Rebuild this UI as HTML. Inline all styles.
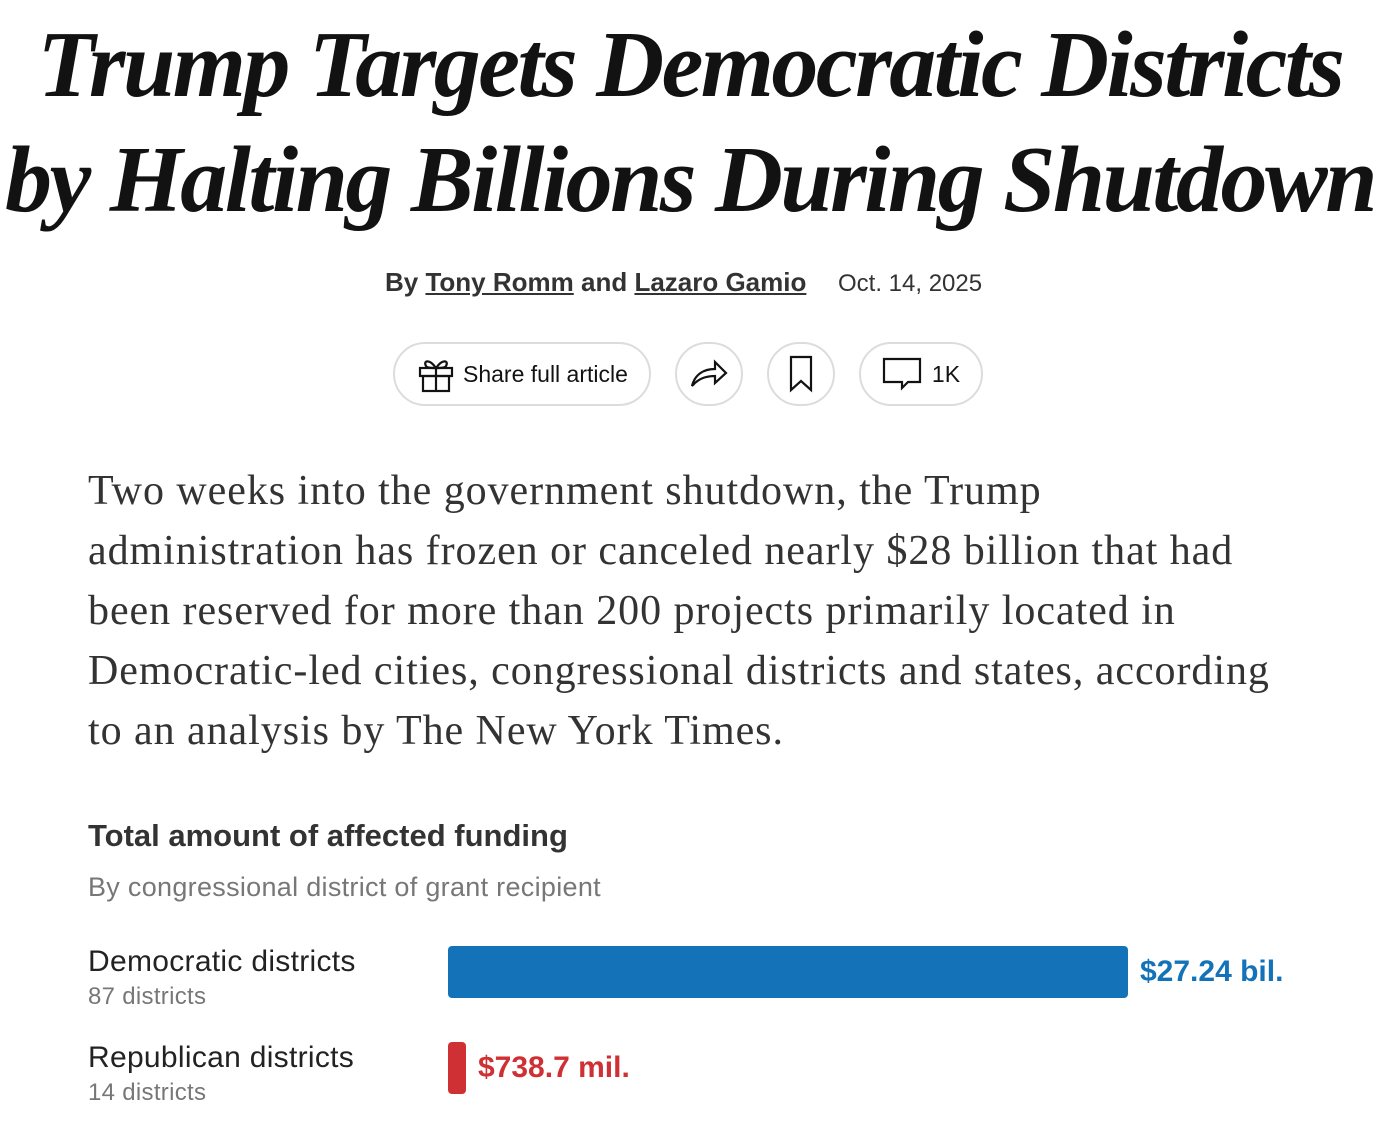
<!DOCTYPE html>
<html><head><meta charset="utf-8"><style>
body{margin:0;width:1380px;height:1134px;background:#fff;position:relative;overflow:hidden;font-family:"Liberation Sans",sans-serif;color:#121212}
.a{position:absolute;white-space:nowrap}
.t{font-family:"Liberation Serif",serif;font-weight:bold;font-style:italic;font-size:94px;letter-spacing:-2.5px;left:0;width:1380px;text-align:center;line-height:1}
.b{font-family:"Liberation Serif",serif;font-size:42px;color:#333;left:88px;letter-spacing:0.95px}
.btn{position:absolute;border:2px solid #dcdcdc;border-radius:34px;height:64px;top:342px;box-sizing:border-box;display:flex;align-items:center;justify-content:center;font-size:23px;color:#121212}
</style></head><body>
<div class="a t" style="top:18px">Trump Targets Democratic Districts</div>
<div class="a t" style="top:133px">by Halting Billions During Shutdown</div>
<div class="a" style="left:385px;top:267px;font-size:26px;font-weight:bold;color:#333">By <u>Tony Romm</u> and <u>Lazaro Gamio</u></div>
<div class="a" style="left:838px;top:270px;font-size:24px;color:#333">Oct. 14, 2025</div>
<div class="btn" style="left:393px;width:258px;justify-content:flex-start;padding-left:22px">
<svg width="38" height="38" viewBox="0 0 38 38" fill="none" stroke="#121212" stroke-width="2.2"><rect x="3" y="13" width="32" height="8"/><rect x="6" y="21" width="26" height="15"/><line x1="19" y1="13" x2="19" y2="36"/><path d="M19 13 C12 3 6 6 9 11 C10 13 15 13 19 13 C23 13 28 13 29 11 C32 6 26 3 19 13"/></svg>
<span style="margin-left:8px">Share full article</span></div>
<div class="btn" style="left:675px;width:68px"><svg width="40" height="30" viewBox="0 0 40 30" fill="none" stroke="#121212" stroke-width="2.2"><path d="M3 27 C6 15 15 10 26 10 L26 3 L37 14 L26 24 L26 17 C16 17 9 20 3 27Z"/></svg></div>
<div class="btn" style="left:767px;width:68px"><svg width="26" height="38" viewBox="0 0 26 38" fill="none" stroke="#121212" stroke-width="2.2"><path d="M3 2 H23 V35 L13 26 L3 35Z"/></svg></div>
<div class="btn" style="left:859px;width:124px"><svg width="40" height="38" viewBox="0 0 40 38" fill="none" stroke="#121212" stroke-width="2.2"><path d="M2 4 H38 V27 H26 L20 33 L20 27 H2Z"/></svg><span style="margin-left:10px">1K</span></div>
<div class="a b" style="top:467px">Two weeks into the government shutdown, the Trump</div>
<div class="a b" style="top:527px">administration has frozen or canceled nearly $28 billion that had</div>
<div class="a b" style="top:587px">been reserved for more than 200 projects primarily located in</div>
<div class="a b" style="top:647px">Democratic-led cities, congressional districts and states, according</div>
<div class="a b" style="top:707px">to an analysis by The New York Times.</div>
<div class="a" style="left:88px;top:818px;font-size:31px;font-weight:bold;color:#333">Total amount of affected funding</div>
<div class="a" style="left:88px;top:872px;font-size:27px;color:#777;letter-spacing:0.3px">By congressional district of grant recipient</div>
<div class="a" style="left:88px;top:945px;font-size:30px;color:#222;letter-spacing:0.3px">Democratic districts</div>
<div class="a" style="left:88px;top:983px;font-size:24px;color:#777;letter-spacing:0.3px">87 districts</div>
<div class="a" style="left:88px;top:1041px;font-size:30px;color:#222;letter-spacing:0.3px">Republican districts</div>
<div class="a" style="left:88px;top:1079px;font-size:24px;color:#777;letter-spacing:0.3px">14 districts</div>
<div class="a" style="left:448px;top:946px;width:680px;height:52px;background:#1473b8;border-radius:4px"></div>
<div class="a" style="left:1140px;top:955px;font-size:30px;font-weight:bold;color:#1473b8">$27.24 bil.</div>
<div class="a" style="left:448px;top:1042px;width:18px;height:52px;background:#cf3034;border-radius:4px"></div>
<div class="a" style="left:478px;top:1051px;font-size:30px;font-weight:bold;color:#cf3034">$738.7 mil.</div>
</body></html>
